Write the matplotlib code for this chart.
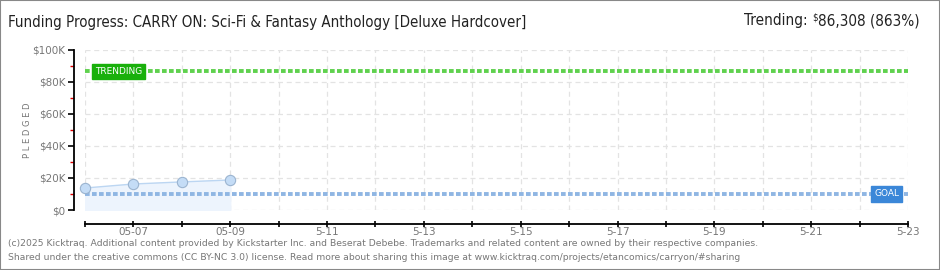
import matplotlib
matplotlib.use("Agg")
import matplotlib.pyplot as plt
import matplotlib.dates as mdates
import numpy as np
from matplotlib.patches import Rectangle

# Data
dates = np.array(["2025-05-06", "2025-05-07", "2025-05-08", "2025-05-09"], dtype="datetime64[D]")
pledged = [13700, 16200, 17500, 18700]
goal = 10000
trending = 86308
x_start = np.datetime64("2025-05-06")
x_end = np.datetime64("2025-05-23")
tick_labels = ["05-07", "05-09", "5-11", "5-13", "5-15", "5-17", "5-19", "5-21", "5-23"]
y_ticks = [0, 20000, 40000, 60000, 80000, 100000]
y_labels = ["$0", "$20K", "$40K", "$60K", "$80K", "$100K"]

plt.rcParams["font.family"] = ["DejaVu Sans"]

fig = plt.figure(figsize=(9.4, 2.7), dpi=100)
fig.patch.set_facecolor("white")
fig.add_artist(Rectangle((0, 0), 1, 1, transform=fig.transFigure, fill=False,
                         edgecolor="#888888", linewidth=1.5))

ax = fig.add_axes([85 / 940, 1 - 210 / 270, 823 / 940, 160.5 / 270])
xd = mdates.date2num(dates.astype("datetime64[s]").astype(object))
x0 = mdates.date2num(x_start.astype(object))
x1 = mdates.date2num(x_end.astype(object))

# grid
days = np.arange(x0, x1 + 1)
for d in days:
    ax.axvline(d, color="#e3e3e3", linestyle=(0, (4, 3)), linewidth=0.9, zorder=0)
for yv in y_ticks:
    ax.axhline(yv, color="#e3e3e3", linestyle=(0, (4, 3)), linewidth=0.9, zorder=0)

# pledged series
ax.fill_between(xd, pledged, 0, color="#edf4fd", zorder=1)
ax.plot(xd, pledged, color="#bcd6f2", linewidth=1.0, zorder=2)
ax.scatter(xd, pledged, s=55, color="#c4dcf6", edgecolor="#9bb4d0", linewidth=0.8, zorder=4,
           clip_on=False)

# goal and trending lines
ax.axhline(goal, color="#8fb6e3", linestyle=(0, (1.2, 0.6)), linewidth=2.8, zorder=3)
ax.axhline(trending, color="#5fd14e", linestyle=(0, (1.2, 0.6)), linewidth=2.8, zorder=3)

ax.text(x0 + 0.2, trending, "TRENDING", color="white", fontsize=6.5,
        ha="left", va="center", zorder=5,
        bbox=dict(boxstyle="square,pad=0.35", facecolor="#19b00b", edgecolor="#19b00b"))
ax.text(x1 - 0.7, goal, "GOAL", color="white", fontsize=6.5,
        ha="left", va="center", zorder=5,
        bbox=dict(boxstyle="square,pad=0.35", facecolor="#3b87d8", edgecolor="#3b87d8"))

ax.set_xlim(x0, x1)
ax.set_ylim(0, 100000)

labels = [""] * len(days)
labels[1::2] = tick_labels
ax.set_xticks(days)
ax.set_xticklabels(labels)
ax.tick_params(axis="x", which="major", direction="inout", length=5, width=1.2, color="black",
               labelsize=7.5, labelcolor="#777777", pad=0)

ax.set_yticks(y_ticks)
ax.set_yticklabels(y_labels)
ax.set_yticks(np.arange(10000, 100000, 20000), minor=True)
ax.tick_params(axis="y", which="major", direction="out", length=4, width=1.2, color="black",
               labelsize=7.5, labelcolor="#777777", pad=2)
ax.tick_params(axis="y", which="minor", direction="out", length=3, width=1.0, color="#e00000")

for s in ["top", "right"]:
    ax.spines[s].set_visible(False)
ax.spines["left"].set_linewidth(1.3)
ax.spines["bottom"].set_linewidth(1.3)
ax.spines["bottom"].set_position(("outward", 10))
ax.spines["left"].set_position(("outward", 8))

ax.set_ylabel("P L E D G E D", fontsize=6, color="#777777")
ax.yaxis.set_label_coords(-0.064, 0.5)

# header
fig.text(8 / 940, 1 - 22 / 270, "Funding Progress: CARRY ON: Sci-Fi & Fantasy Anthology [Deluxe Hardcover]",
         fontsize=10.8, fontstretch="condensed", color="#222222", ha="left", va="center")
fig.text(920 / 940, 1 - 21 / 270, "86,308 (863%)", fontsize=11, fontstretch="condensed",
         color="#222222", ha="right", va="center")
fig.text(818 / 940, 1 - 17 / 270, "$", fontsize=7, fontstretch="condensed",
         color="#222222", ha="right", va="center")
fig.text(808 / 940, 1 - 21 / 270, "Trending:", fontsize=11, fontstretch="condensed",
         color="#222222", ha="right", va="center")

# footer
fig.text(8 / 940, 1 - 243 / 270,
         "(c)2025 Kicktraq. Additional content provided by Kickstarter Inc. and Beserat Debebe. "
         "Trademarks and related content are owned by their respective companies.",
         fontsize=6.7, color="#777777", ha="left", va="center")
fig.text(8 / 940, 1 - 257 / 270,
         "Shared under the creative commons (CC BY-NC 3.0) license. Read more about sharing this image at "
         "www.kicktraq.com/projects/etancomics/carryon/#sharing",
         fontsize=6.7, color="#777777", ha="left", va="center")

fig.savefig("out.png", dpi=100)
